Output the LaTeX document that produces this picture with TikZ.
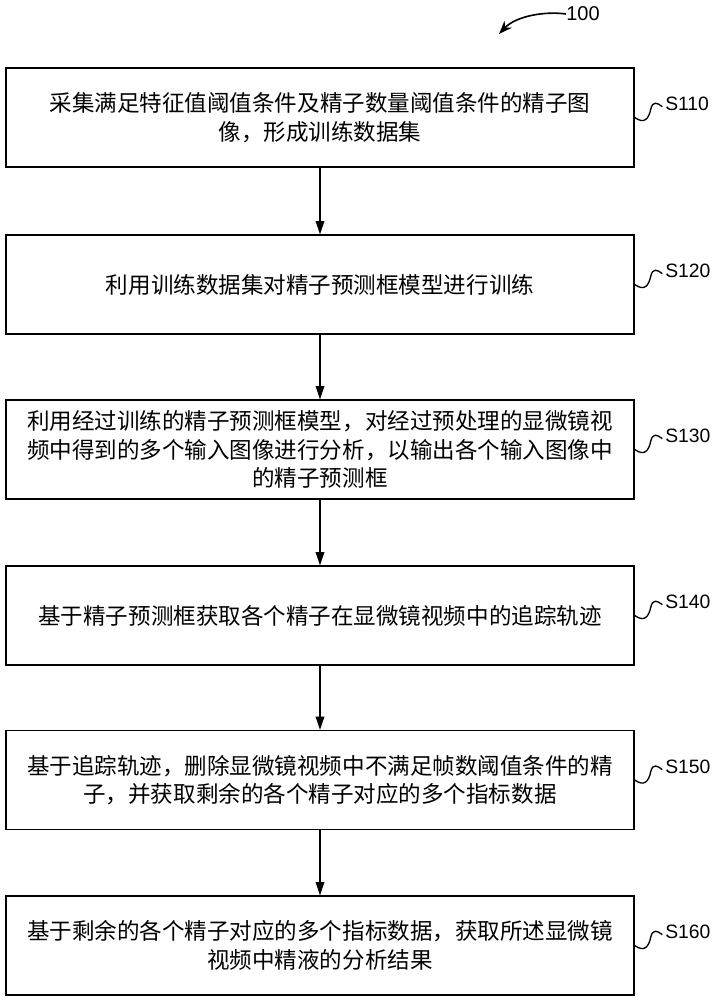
\documentclass[tikz,border=0pt]{standalone}
\usepackage{fontspec}
\setmainfont{Liberation Sans}
\newfontfamily\cjk{Noto Sans CJK SC}
\usetikzlibrary{arrows.meta}

\tikzset{
  stepbox/.style={draw, line width=1pt, minimum width=471pt, minimum height=74.25pt, inner sep=0pt, align=center, font=\cjk\fontsize{16.9}{21.4}\selectfont},
  steplabel/.style={anchor=west, inner sep=0pt, font=\fontsize{14.5}{16}\selectfont},
  flow/.style={line width=1pt, -{Triangle[length=10pt,width=6.5pt]}},
  hook/.style={line width=1pt},
}

\begin{document}
\begin{tikzpicture}[x=0.75pt,y=0.75pt,yscale=-1,xscale=1]
\path (0,0) rectangle (716,1000); %set diagram size 716 x 1000

%Reference numeral
\node[inner sep=0pt, font=\fontsize{15}{17}\selectfont] (fig) at (583,14) {100};
\coordinate (figtip) at (499,34);
\draw[line width=1.2pt, -{Stealth[length=10pt,width=7.5pt]}] (fig.west) .. controls (545,11) and (516,16) .. (figtip);

%Shape: Rectangle S110
\node[stepbox] (s110) at (320,117.5) {采集满足特征值阈值条件及精子数量阈值条件的精子图\\像，形成训练数据集};
%Shape: Rectangle S120
\node[stepbox] (s120) at (320,284.5) {利用训练数据集对精子预测框模型进行训练};
%Shape: Rectangle S130
\node[stepbox] (s130) at (320,449.5) {利用经过训练的精子预测框模型，对经过预处理的显微镜视\\频中得到的多个输入图像进行分析，以输出各个输入图像中\\的精子预测框};
%Shape: Rectangle S140
\node[stepbox] (s140) at (320,615.5) {基于精子预测框获取各个精子在显微镜视频中的追踪轨迹};
%Shape: Rectangle S150
\node[stepbox] (s150) at (320,780) {基于追踪轨迹，删除显微镜视频中不满足帧数阈值条件的精\\子，并获取剩余的各个精子对应的多个指标数据};
%Shape: Rectangle S160
\node[stepbox] (s160) at (320,945.5) {基于剩余的各个精子对应的多个指标数据，获取所述显微镜\\视频中精液的分析结果};

%Straight Lines
\draw[flow] (s110) -- (s120);
\draw[flow] (s120) -- (s130);
\draw[flow] (s130) -- (s140);
\draw[flow] (s140) -- (s150);
\draw[flow] (s150) -- (s160);

%Step labels
\node[steplabel] (t110) at (665,104) {S110};
\node[steplabel] (t120) at (665,271) {S120};
\node[steplabel] (t130) at (665,436) {S130};
\node[steplabel] (t140) at (665,602) {S140};
\node[steplabel] (t150) at (665,767) {S150};
\node[steplabel] (t160) at (665,932) {S160};

%Curve Lines
\draw[hook] (s110.east) .. controls +(10,7) and +(-2,9) .. ++(16,-8) .. controls +(2,-9) and +(-5,-4) .. ([xshift=-2pt,yshift=2pt]t110.west);
\draw[hook] (s120.east) .. controls +(10,7) and +(-2,9) .. ++(16,-8) .. controls +(2,-9) and +(-5,-4) .. ([xshift=-2pt,yshift=2pt]t120.west);
\draw[hook] (s130.east) .. controls +(10,7) and +(-2,9) .. ++(16,-8) .. controls +(2,-9) and +(-5,-4) .. ([xshift=-2pt,yshift=2pt]t130.west);
\draw[hook] (s140.east) .. controls +(10,7) and +(-2,9) .. ++(16,-8) .. controls +(2,-9) and +(-5,-4) .. ([xshift=-2pt,yshift=2pt]t140.west);
\draw[hook] (s150.east) .. controls +(10,7) and +(-2,9) .. ++(16,-8) .. controls +(2,-9) and +(-5,-4) .. ([xshift=-2pt,yshift=2pt]t150.west);
\draw[hook] (s160.east) .. controls +(10,7) and +(-2,9) .. ++(16,-8) .. controls +(2,-9) and +(-5,-4) .. ([xshift=-2pt,yshift=2pt]t160.west);

\end{tikzpicture}
\end{document}
